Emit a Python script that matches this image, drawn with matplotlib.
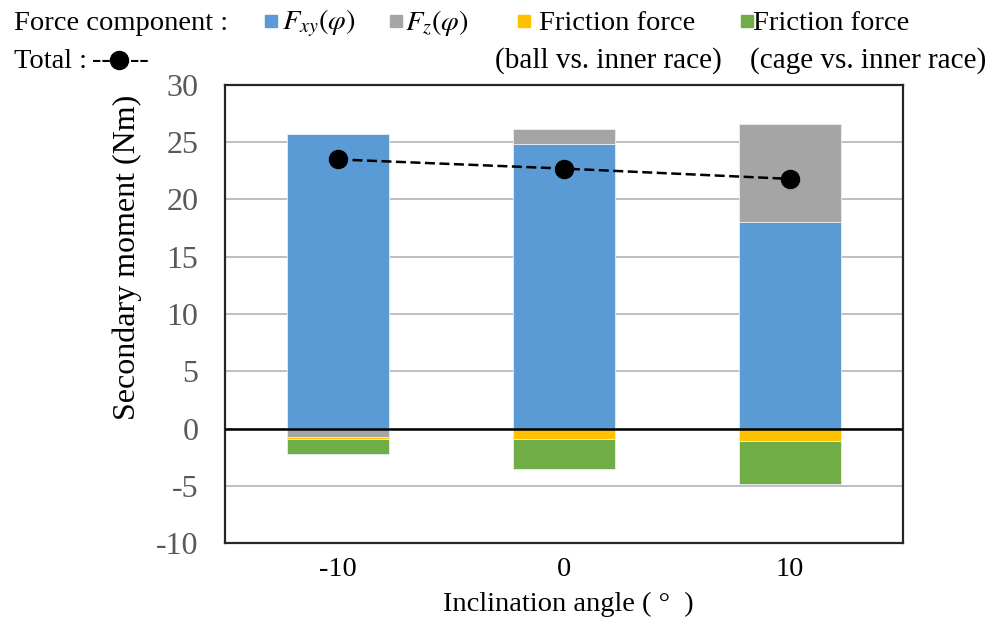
import matplotlib

matplotlib.use("Agg")
import matplotlib.pyplot as plt
import numpy as np
from matplotlib.lines import Line2D
from matplotlib.patches import Rectangle

plt.rcParams["font.family"] = ["Liberation Serif", "Noto Sans CJK JP"]
plt.rcParams["mathtext.fontset"] = "stix"
plt.rcParams["axes.unicode_minus"] = False

BLUE = "#5B9BD5"
GRAY = "#A5A5A5"
GOLD = "#FFC000"
GREEN = "#70AD47"
TICK = "#595959"
GRID = "#BFBFBF"

angles = ["-10", "0", "10"]
f_xy = [25.7, 24.85, 18.0]
f_z = [-0.77, 1.3, 8.6]
fric_ball = [-0.17, -0.92, -1.09]
fric_cage = [-1.3, -2.6, -3.73]
total = [23.5, 22.7, 21.8]

W, H = 992, 619


def fx(px):
    return px / W


def fy(py):
    return 1 - py / H


fig = plt.figure(figsize=(W / 100, H / 100), dpi=100)
ax = fig.add_axes([fx(225), fy(543), (903 - 225) / W, (543 - 85) / H])

x = np.arange(len(angles))
pos = np.zeros(len(angles))
neg = np.zeros(len(angles))
for vals, col in ((f_xy, BLUE), (f_z, GRAY), (fric_ball, GOLD), (fric_cage, GREEN)):
    vals = np.array(vals)
    bottom = np.where(vals >= 0, pos, neg)
    ax.bar(x, vals, bottom=bottom, width=0.45, color=col,
           edgecolor="#e8eef6", linewidth=0.6, zorder=3)
    pos = pos + np.clip(vals, 0, None)
    neg = neg + np.clip(vals, None, 0)

ax.plot(x, total, color="black", linestyle=(0, (4, 1.8)), linewidth=1.8,
        marker="o", markersize=13, zorder=5)

ax.axhline(0, color="black", linewidth=1.8, zorder=4)
ax.set_ylim(-10, 30)
ax.set_xlim(-0.5, 2.5)
ax.set_yticks(np.arange(-10, 31, 5))
ax.set_xticks(x)
ax.set_xticklabels(angles)
ax.yaxis.grid(True, color=GRID, linewidth=1.4, zorder=0)
ax.set_axisbelow(True)
ax.tick_params(axis="y", length=0, pad=19, labelsize=23, labelcolor=TICK)
ax.tick_params(axis="x", length=0, pad=10, labelsize=20.5, labelcolor="black")
for s in ax.spines.values():
    s.set_color("#262626")
    s.set_linewidth(1.6)

fig.text(fx(127), fy(257), "Secondary moment (Nm)", fontsize=23,
         rotation=90, ha="center", va="center")
fig.text(fx(568), fy(604), "Inclination angle ( °  )", fontsize=20.5,
         ha="center", va="center")

# legend drawn as figure text
fs = 20.5
fig.text(fx(14), fy(23), "Force component :", fontsize=fs, va="center")
fig.text(fx(14), fy(61), "Total :", fontsize=fs, va="center")
fig.text(fx(92), fy(61), "--", fontsize=fs, va="center")
fig.text(fx(130), fy(61), "--", fontsize=fs, va="center")
fig.lines.append(Line2D([fx(119)], [fy(60)], transform=fig.transFigure,
                        color="black", marker="o", markersize=13))

entries = [
    (265, BLUE, 282, r"$F_{xy}(\varphi)$", None, None),
    (390, GRAY, 405, r"$F_{z}(\varphi)$", None, None),
    (518, GOLD, 539, "Friction force", 495, "(ball vs. inner race)"),
    (741, GREEN, 753, "Friction force", 750, "(cage vs. inner race)"),
]
for sx, col, tx, line1, tx2, line2 in entries:
    fig.patches.append(Rectangle((fx(sx), fy(27)), 12 / W, 12 / H,
                                 transform=fig.transFigure, color=col))
    fig.text(fx(tx), fy(23), line1, fontsize=fs, va="center")
    if line2:
        fig.text(fx(tx2), fy(61), line2, fontsize=21, va="center")

fig.savefig("out.png")
